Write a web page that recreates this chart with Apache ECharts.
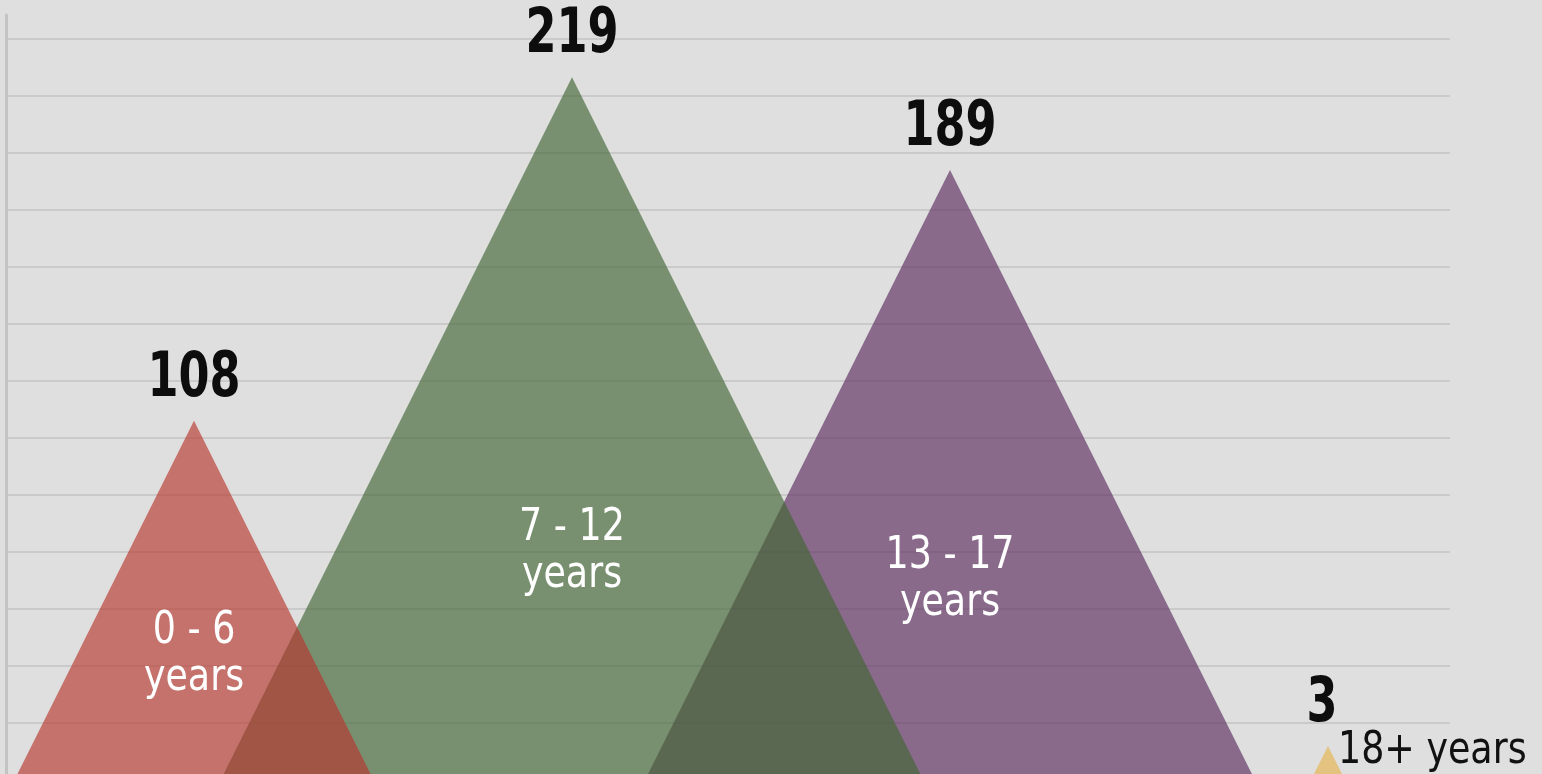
<!DOCTYPE html>
<html>
<head>
<meta charset="utf-8">
<script src="https://cdn.jsdelivr.net/npm/echarts@6/dist/echarts.min.js"></script>
<style>
  html, body { margin: 0; padding: 0; background: #dfdfdf; }
  #chart { width: 1542px; height: 774px; }
</style>
</head>
<body>
<div id="chart"></div>
<script>
// data
const ageGroups = ["0 - 6\nyears", "7 - 12\nyears", "13 - 17\nyears", "18+ years"];
const counts = [108, 219, 189, 3];

const colors = ["rgb(183,55,46)", "rgb(64,102,51)", "rgb(90,43,93)", "rgb(230,180,78)"];
const narrow = '"Liberation Sans Narrow", "DejaVu Sans Condensed", Roboto, sans-serif';

// visible value range of the chart; triangles are drawn down to yBase, which lies below the frame
const yMin = -6.07;
const yMax = 231.5;
const yBase = -26.3;

const myChart = echarts.init(document.getElementById("chart"));

function renderTriangle(params, api) {
  const i = api.value(0);
  const v = api.value(1);
  const top = api.coord([i, v]);
  const base = api.coord([i, yBase]);
  const half = (base[1] - top[1]) / 2;
  const children = [
    {
      type: "polygon",
      z2: 10 - i,
      shape: { points: [[top[0], top[1]], [top[0] - half, base[1]], [top[0] + half, base[1]]] },
      style: { fill: colors[i], opacity: 0.65 }
    },
    {
      type: "text",
      z2: 100,
      x: top[0] - (i === 3 ? 6 : 0),
      y: top[1] - 10,
      scaleX: 0.8,
      style: {
        text: String(counts[i]),
        font: "bold 62px " + narrow,
        fill: "#0d0d0d",
        align: "center",
        verticalAlign: "bottom"
      }
    }
  ];
  if (i < 3) {
    const mid = api.coord([i, v * 0.3]);
    children.push({
      type: "text",
      z2: 100,
      x: mid[0],
      y: mid[1],
      scaleX: 0.92,
      style: {
        text: ageGroups[i],
        font: "44px " + narrow,
        lineHeight: 47,
        fill: "#ffffff",
        align: "center",
        verticalAlign: "middle"
      }
    });
  } else {
    children.push({
      type: "text",
      z2: 100,
      x: top[0] + 10,
      y: top[1] + 6,
      scaleX: 0.92,
      style: {
        text: ageGroups[i],
        font: "44px " + narrow,
        fill: "#111111",
        align: "left",
        verticalAlign: "middle"
      }
    });
  }
  return { type: "group", children: children };
}

const option = {
  backgroundColor: "#dfdfdf",
  animation: false,
  grid: [
    { left: 6, right: 92, top: 15, height: 821.5, outerBoundsMode: "none" },
    { left: 194, right: 214, top: 38.5, bottom: 0, outerBoundsMode: "none" }
  ],
  xAxis: [
    { gridIndex: 0, type: "value", min: 0, max: 1, show: false },
    { gridIndex: 1, type: "category", data: ageGroups, boundaryGap: false, show: false }
  ],
  yAxis: [
    {
      gridIndex: 0,
      type: "value",
      min: 0,
      max: 14.412,
      interval: 1,
      position: "left",
      axisLine: { show: true, onZero: false, lineStyle: { color: "#c3c3c3", width: 3 } },
      axisTick: { show: false },
      axisLabel: { show: false },
      splitLine: { show: true, showMaxLine: false, lineStyle: { color: "#cacaca", width: 2 } }
    },
    {
      gridIndex: 1,
      type: "value",
      min: yMin,
      max: yMax,
      show: false,
      splitLine: { show: false }
    }
  ],
  series: [
    {
      type: "custom",
      xAxisIndex: 1,
      yAxisIndex: 1,
      clip: false,
      renderItem: renderTriangle,
      data: counts.map(function (c, i) { return [i, c]; })
    }
  ]
};

myChart.setOption(option);
window.addEventListener("resize", function () { myChart.resize(); });
</script>
</body>
</html>
